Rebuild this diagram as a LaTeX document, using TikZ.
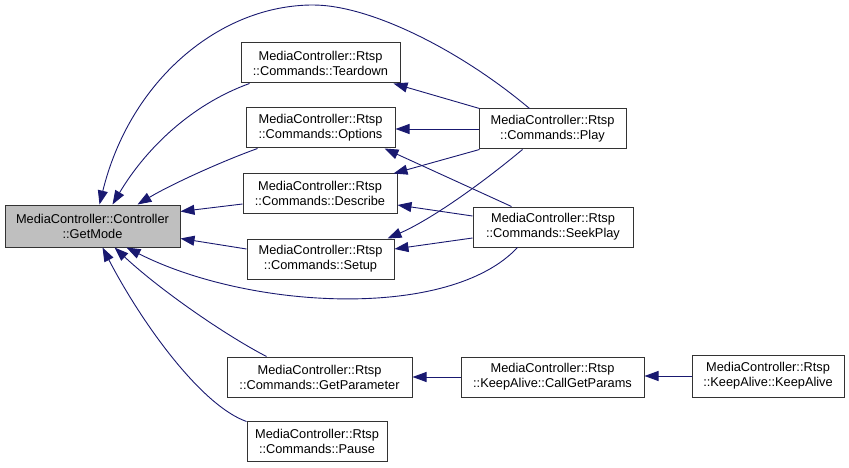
\documentclass[tikz,border=0pt]{standalone}
\usepackage{fontspec}
\setmainfont{Liberation Sans}
\usetikzlibrary{arrows.meta,calc}
\definecolor{edgeblue}{HTML}{191970}
\definecolor{boxgray}{HTML}{BFBFBF}
\begin{document}
\begin{tikzpicture}[x=1pt,y=-1pt,
  fn/.style={draw=black!80, line width=1pt, fill=white, align=center, inner sep=0pt,
             font=\fontsize{12.8}{15}\selectfont, anchor=center},
  cur/.style={fn, fill=boxgray},
  call/.style={draw=edgeblue, line width=0.9pt, -{Triangle[length=14pt,width=10pt]}}]
\useasboundingbox (0,0) rectangle (849,468);

\node[cur, minimum width=175pt, minimum height=42pt] (gm) at (92.5,226) {MediaController::Controller\\::GetMode};
\node[fn, minimum width=159pt, minimum height=40pt] (td) at (320.5,63) {MediaController::Rtsp\\::Commands::Teardown};
\node[fn, minimum width=149pt, minimum height=40pt] (op) at (320.5,128) {MediaController::Rtsp\\::Commands::Options};
\node[fn, minimum width=154pt, minimum height=39pt] (ds) at (320,193.5) {MediaController::Rtsp\\::Commands::Describe};
\node[fn, minimum width=147pt, minimum height=40pt] (su) at (320.5,259) {MediaController::Rtsp\\::Commands::Setup};
\node[fn, minimum width=147pt, minimum height=40pt] (play) at (552.5,129) {MediaController::Rtsp\\::Commands::Play};
\node[fn, minimum width=160pt, minimum height=40pt] (sp) at (553,227) {MediaController::Rtsp\\::Commands::SeekPlay};
\node[fn, minimum width=185pt, minimum height=40pt] (gp) at (319.5,377) {MediaController::Rtsp\\::Commands::GetParameter};
\node[fn, minimum width=183pt, minimum height=40pt] (cgp) at (552.5,377) {MediaController::Rtsp\\::KeepAlive::CallGetParams};
\node[fn, minimum width=140pt, minimum height=40pt] (pa) at (317,441) {MediaController::Rtsp\\::Commands::Pause};
\node[fn, minimum width=152pt, minimum height=42pt] (ka) at (768,376) {MediaController::Rtsp\\::KeepAlive::KeepAlive};

% callers of GetMode
\draw[call] ($(play.north west)+(51,0)$) .. controls (460,50) and (370,5) .. (313,5)
            .. controls (220,5) and (130,80) .. ($(gm.north west)+(95,0)$);
\draw[call] ($(td.south west)+(9,0)$) .. controls (190,105) and (145,150) .. ($(gm.north west)+(108,0)$);
\draw[call] ($(op.south west)+(12,0)$) .. controls (220,162) and (170,185) .. ($(gm.north west)+(133,0)$);
\draw[call] ($(ds.west)+(0,10.5)$) -- ($(gm.north east)+(0,7)$);
\draw[call] ($(su.west)+(0,-10)$) -- ($(gm.north east)+(0,34)$);
\draw[call] ($(sp.south west)+(45,0)$) .. controls (450,320) and (250,310) .. ($(gm.south west)+(122,0)$);
\draw[call] ($(gp.north west)+(40,0)$) .. controls (225,335) and (160,290) .. ($(gm.south west)+(110,0)$);
\draw[call] ($(pa.north west)+(0,1)$) .. controls (200,405) and (140,320) .. ($(gm.south west)+(98,0)$);

% Play callers
\draw[call] ($(play.north west)+(1,0)$) -- ($(td.south east)+(-7,0)$);
\draw[call] (play.west) -- (play.west -| op.east);
\draw[call] ($(play.south west)+(1,0)$) -- ($(ds.north east)+(-4,0)$);
\draw[call] ($(play.south west)+(44,0)$) .. controls (480,185) and (430,220) .. ($(su.north east)+(-7,0)$);

% SeekPlay callers
\draw[call] ($(sp.north west)+(39,0)$) -- ($(op.south east)+(-11,0)$);
\draw[call] ($(sp.west)+(0,-11)$) -- ($(ds.east)+(0,11.5)$);
\draw[call] ($(sp.west)+(0,11)$) -- ($(su.east)+(0,-10)$);

% KeepAlive chain
\draw[call] (cgp.west) -- (gp.east);
\draw[call] (ka.west) -- (ka.west -| cgp.east);
\end{tikzpicture}
\end{document}
